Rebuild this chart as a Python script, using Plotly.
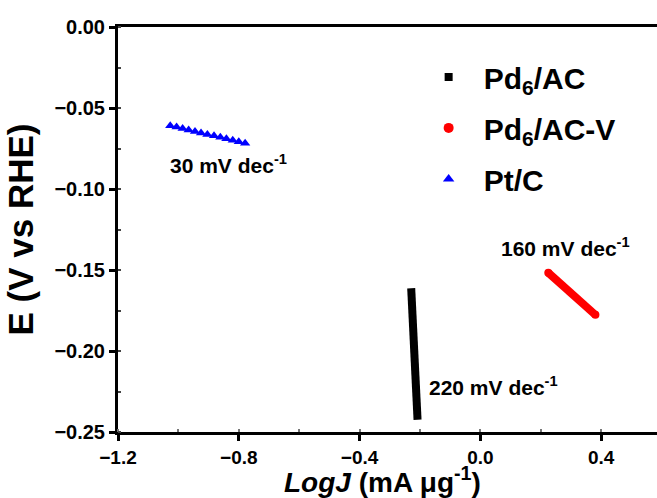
import plotly.graph_objects as go

# Data
pdac_x = [-0.229, -0.208]
pdac_y = [-0.1613, -0.2424]

pdacv_x = [0.225, 0.381]
pdacv_y = [-0.1517, -0.1777]

ptc_x = [-1.027, -1.006, -0.986, -0.966, -0.945, -0.925, -0.904, -0.882,
         -0.861, -0.841, -0.820, -0.800, -0.779]
ptc_y = [-0.0609, -0.0618, -0.0627, -0.0636, -0.0645, -0.0654, -0.0663,
         -0.0672, -0.0681, -0.0690, -0.0699, -0.0708, -0.0717]

series_names = ["Pd<sub>6</sub>/AC", "Pd<sub>6</sub>/AC-V", "Pt/C"]
slope_labels = ["220 mV dec<sup>-1</sup>", "160 mV dec<sup>-1</sup>", "30 mV dec<sup>-1</sup>"]
slope_pos = [(0.044, -0.2218), (0.281, -0.136), (-0.835, -0.0848)]

FONT = "Arial, Liberation Sans, sans-serif"

fig = go.Figure()

# Data marks
fig.add_trace(go.Scatter(x=pdac_x, y=pdac_y, mode="lines", showlegend=False,
                         line=dict(color="black", width=8)))
fig.add_trace(go.Scatter(x=pdacv_x, y=pdacv_y, mode="lines+markers", showlegend=False,
                         line=dict(color="red", width=8),
                         marker=dict(symbol="circle", size=8, color="red")))
fig.add_trace(go.Scatter(x=ptc_x, y=ptc_y, mode="markers", showlegend=False,
                         marker=dict(symbol="triangle-up", size=9, color="blue")))

# Legend entries
legend_markers = [("square", 8, "black"), ("circle", 10, "red"), ("triangle-up", 10, "blue")]
for i, (name, (sym, sz, col)) in enumerate(zip(series_names, legend_markers)):
    fig.add_trace(go.Scatter(x=[None], y=[None], mode="markers", name=name,
                             legendgroup=f"g{i}",
                             marker=dict(symbol=sym, size=sz, color=col)))

for txt, (ax, ay) in zip(slope_labels, slope_pos):
    fig.add_annotation(x=ax, y=ay, text=txt, showarrow=False,
                       font=dict(family=FONT, size=21, color="black", weight="bold"))

# X axis title placed at the bottom edge
fig.add_annotation(x=0.49, y=-0.168, xref="paper", yref="paper",
                   xanchor="center", yanchor="bottom", showarrow=False,
                   text="<i>LogJ</i> (mA μg<sup>-1</sup>)",
                   font=dict(family=FONT, size=28, color="black", weight="bold"))

axis_common = dict(
    showgrid=False, zeroline=False, showline=True, linecolor="black", linewidth=3,
    ticks="outside", ticklen=6, tickwidth=3, tickcolor="black",
)

fig.update_xaxes(range=[-1.2, 0.585], tick0=-1.2, dtick=0.4, tickformat=".1f",
                 mirror=True,
                 tickfont=dict(family=FONT, size=19, color="black", weight="bold"),
                 minor=dict(dtick=0.2, ticks="inside", ticklen=3, tickwidth=2, tickcolor="#777"),
                 **axis_common)
fig.update_yaxes(range=[-0.25, 0.0], tick0=0, dtick=0.05, tickformat=".2f",
                 tickfont=dict(family=FONT, size=20, color="black", weight="bold"),
                 minor=dict(dtick=0.025, ticks="inside", ticklen=3, tickwidth=2, tickcolor="#444"),
                 title=dict(text="E (V vs RHE)", standoff=11,
                            font=dict(family=FONT, size=35, color="black", weight="bold")),
                 **axis_common)

fig.update_layout(
    width=657, height=498,
    margin=dict(l=118, r=0, t=27, b=66),
    plot_bgcolor="white", paper_bgcolor="white",
    legend=dict(x=0.5485, y=0.941, xanchor="left", yanchor="top",
                bgcolor="rgba(0,0,0,0)", itemwidth=60, tracegroupgap=9,
                font=dict(family=FONT, size=30, color="black", weight="bold")),
)

fig.write_html("out.html")
